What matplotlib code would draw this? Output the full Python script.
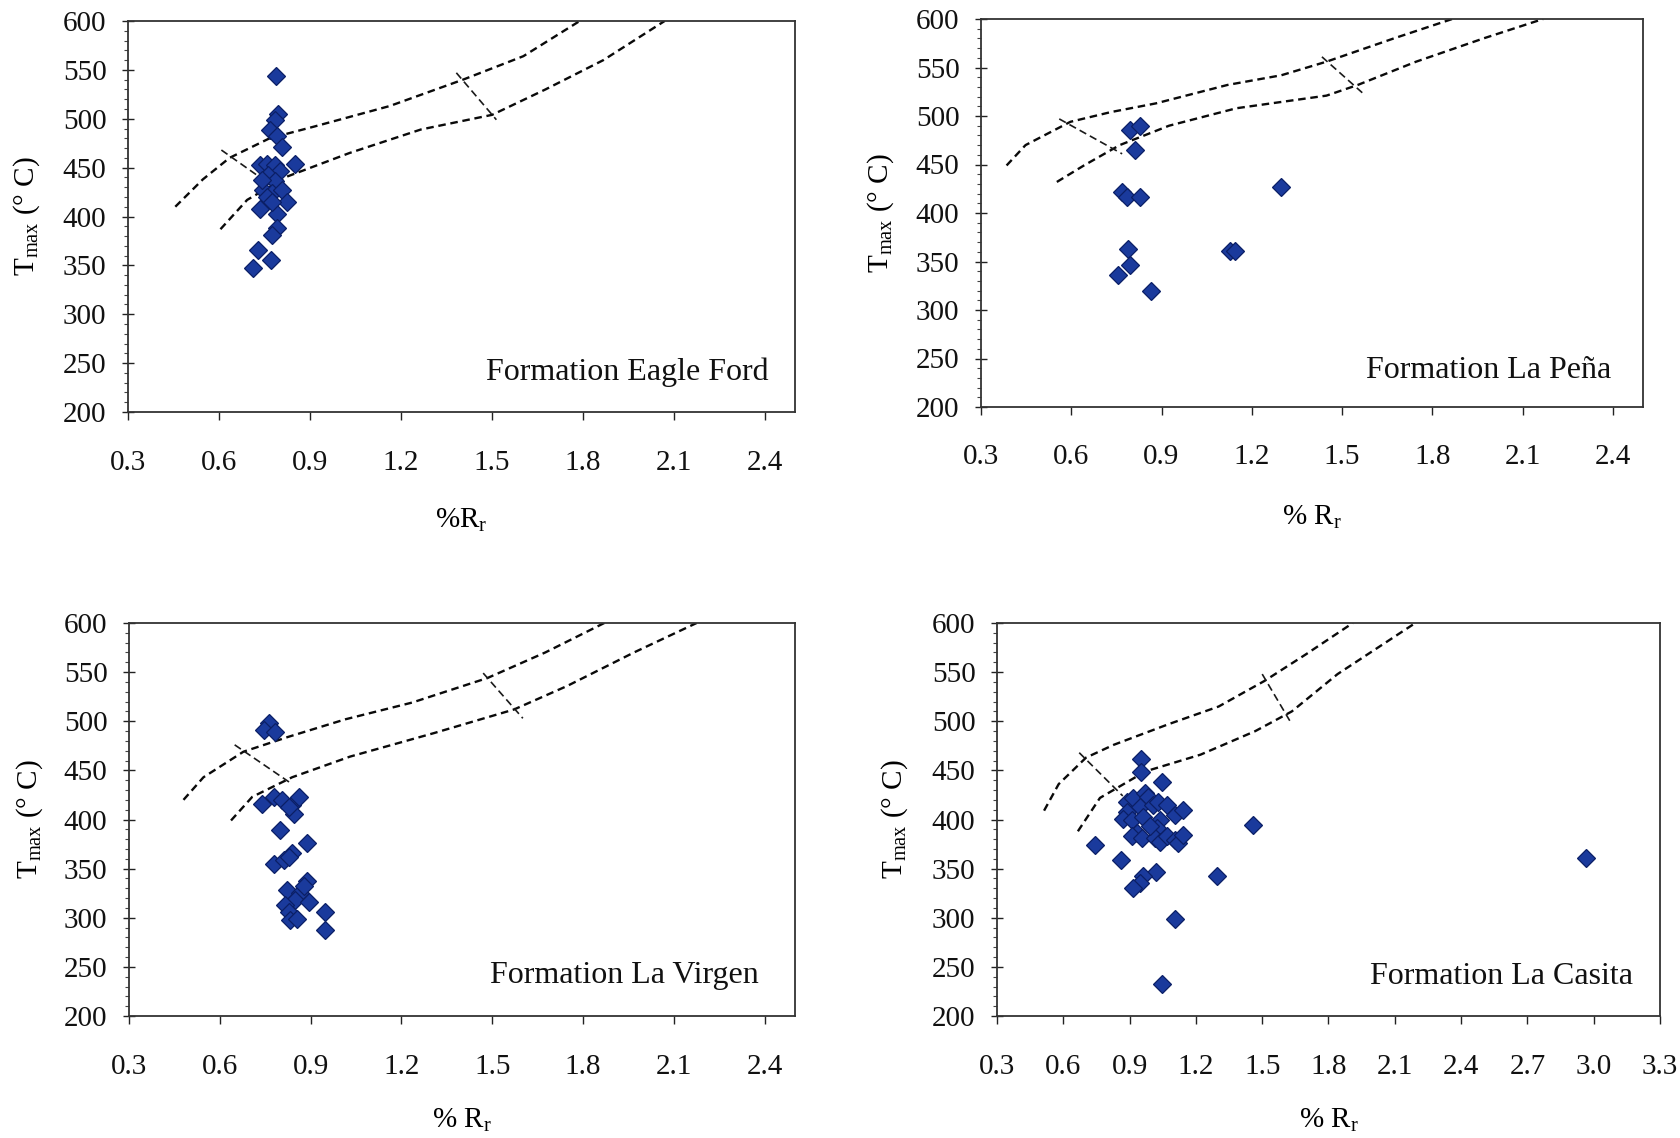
import matplotlib
matplotlib.use('Agg')
import numpy as np
import matplotlib.pyplot as plt
from matplotlib.ticker import MultipleLocator, FixedLocator

plt.rcParams['font.family'] = ['Liberation Serif', 'DejaVu Serif']
plt.rcParams['mathtext.fontset'] = 'custom'
plt.rcParams['mathtext.rm'] = 'Liberation Serif'
plt.rcParams['mathtext.it'] = 'Liberation Serif:italic'

# ---------------- data ----------------
# Formation Eagle Ford
ef_rr = [0.788, 0.796, 0.785, 0.768, 0.790, 0.807, 0.851, 0.735, 0.757, 0.785, 0.801, 0.763,
         0.785, 0.746, 0.774, 0.807, 0.823, 0.757, 0.735, 0.790, 0.790, 0.774, 0.730, 0.771,
         0.713, 0.741, 0.774]
ef_tmax = [544, 505, 499, 488, 482, 471, 454, 453, 454, 453, 447, 442,
           436, 427, 424, 427, 415, 420, 408, 403, 388, 381, 366, 356,
           347, 437, 415]
ef_up_rr = [0.456, 0.547, 0.635, 0.767, 0.914, 1.163, 1.405, 1.604, 1.79]
ef_up_t = [410, 438, 460, 480, 492, 513, 540, 564, 600]
ef_lo_rr = [0.605, 0.693, 0.826, 1.031, 1.266, 1.501, 1.677, 1.868, 2.07]
ef_lo_t = [387, 417, 441, 465, 489, 504, 530, 560, 600]
ef_c1_rr, ef_c1_t = [0.608, 0.745], [468, 438]
ef_c2_rr, ef_c2_t = [1.383, 1.515], [547, 499]

# Formation La Peña
lp_rr = [0.794, 0.828, 0.813, 0.769, 0.784, 0.828, 0.788, 0.796, 0.754, 0.866, 1.127, 1.145, 1.296]
lp_tmax = [486, 490, 465, 422, 416, 416, 363, 346, 336, 320, 361, 361, 427]
lp_up_rr = [0.385, 0.448, 0.597, 0.731, 0.881, 1.119, 1.298, 1.448, 1.672, 1.866]
lp_up_t = [449, 470, 494, 504, 513, 532, 542, 556, 580, 600]
lp_lo_rr = [0.552, 0.642, 0.761, 0.925, 1.149, 1.448, 1.552, 1.746, 1.97, 2.168]
lp_lo_t = [432, 449, 470, 490, 508, 521, 532, 556, 580, 600]
lp_c1_rr, lp_c1_t = [0.56, 0.769], [497, 461]
lp_c2_rr, lp_c2_t = [1.433, 1.567], [561, 524]

# Formation La Virgen
lv_rr = [0.761, 0.745, 0.783, 0.739, 0.778, 0.805, 0.838, 0.860, 0.844, 0.827, 0.800, 0.888,
         0.838, 0.778, 0.811, 0.827, 0.888, 0.822, 0.866, 0.849, 0.893, 0.816, 0.827, 0.833,
         0.855, 0.948, 0.948, 0.877]
lv_tmax = [498, 491, 489, 416, 423, 420, 415, 423, 406, 413, 389, 376,
           366, 355, 359, 362, 337, 328, 325, 318, 316, 313, 306, 298,
           299, 306, 288, 332]
lv_up_rr = [0.48, 0.546, 0.678, 0.825, 1.015, 1.235, 1.484, 1.675, 1.87]
lv_up_t = [420, 443, 469, 484, 502, 519, 544, 570, 600]
lv_lo_rr = [0.637, 0.707, 0.839, 1.03, 1.308, 1.572, 1.748, 1.968, 2.175]
lv_lo_t = [399, 423, 443, 464, 488, 512, 536, 570, 600]
lv_c1_rr, lv_c1_t = [0.649, 0.839], [476, 436]
lv_c2_rr, lv_c2_t = [1.47, 1.601], [549, 503]

# Formation La Casita
lc_rr = [0.952, 0.952, 1.045, 0.887, 0.917, 0.970, 0.985, 0.947, 0.887, 0.872, 0.909, 0.962,
         1.007, 1.030, 1.068, 1.105, 1.143, 1.037, 1.022, 0.932, 0.909, 0.955, 1.015, 1.037,
         1.068, 1.105, 1.120, 1.143, 0.992, 0.743, 0.861, 1.018, 0.962, 0.947, 0.917, 1.105,
         1.045, 1.294, 1.46, 2.963]
lc_tmax = [462, 448, 438, 418, 422, 427, 423, 413, 408, 401, 400, 403,
           415, 418, 415, 405, 410, 400, 391, 386, 383, 381, 381, 377,
           383, 379, 376, 384, 393, 374, 359, 347, 342, 335, 330, 299,
           233, 343, 394, 361]
lc_up_rr = [0.513, 0.579, 0.703, 0.828, 1.076, 1.303, 1.51, 1.697, 1.91]
lc_up_t = [409, 436, 463, 476, 497, 515, 541, 568, 600]
lc_lo_rr = [0.666, 0.766, 0.972, 1.221, 1.469, 1.634, 1.841, 2.193]
lc_lo_t = [388, 422, 449, 466, 490, 510, 548, 600]
lc_c1_rr, lc_c1_t = [0.672, 0.869], [468, 424]
lc_c2_rr, lc_c2_t = [1.5, 1.634], [548, 497]

titles = ['Formation Eagle Ford', 'Formation La Peña', 'Formation La Virgen', 'Formation La Casita']
xlabels = ['%R$_\\mathrm{r}$', '% R$_\\mathrm{r}$', '% R$_\\mathrm{r}$', '% R$_\\mathrm{r}$']
ylabel = 'T$_\\mathrm{max}$ (° C)'

# ---------------- layout ----------------
W, H = 1681, 1138
fig = plt.figure(figsize=(W / 100, H / 100), dpi=100)


def rect(x0, x1, y0, y1):
    return [x0 / W, 1 - y1 / H, (x1 - x0) / W, (y1 - y0) / H]


panels = [
    dict(box=(128, 795, 21, 412), xmax=2.5, pts=(ef_rr, ef_tmax),
         up=(ef_up_rr, ef_up_t), lo=(ef_lo_rr, ef_lo_t),
         c1=(ef_c1_rr, ef_c1_t), c2=(ef_c2_rr, ef_c2_t),
         ylab_px=27, xlab_py=520, title_right=769, title_y=372),
    dict(box=(981, 1643, 19, 407), xmax=2.5, pts=(lp_rr, lp_tmax),
         up=(lp_up_rr, lp_up_t), lo=(lp_lo_rr, lp_lo_t),
         c1=(lp_c1_rr, lp_c1_t), c2=(lp_c2_rr, lp_c2_t),
         ylab_px=881, xlab_py=517, title_right=1611, title_y=371),
    dict(box=(129, 795, 623, 1016), xmax=2.5, pts=(lv_rr, lv_tmax),
         up=(lv_up_rr, lv_up_t), lo=(lv_lo_rr, lv_lo_t),
         c1=(lv_c1_rr, lv_c1_t), c2=(lv_c2_rr, lv_c2_t),
         ylab_px=30, xlab_py=1120, title_right=759, title_y=976),
    dict(box=(997, 1660, 623, 1016), xmax=3.3, pts=(lc_rr, lc_tmax),
         up=(lc_up_rr, lc_up_t), lo=(lc_lo_rr, lc_lo_t),
         c1=(lc_c1_rr, lc_c1_t), c2=(lc_c2_rr, lc_c2_t),
         ylab_px=895, xlab_py=1120, title_right=1633, title_y=976),
]

FS = 21
face = '#1A3A9C'
edge = '#0B1F66'

for i, p in enumerate(panels):
    x0, x1, y0, y1 = p['box']
    ax = fig.add_axes(rect(x0, x1, y0, y1))
    ax.set_xlim(0.3, p['xmax'])
    ax.set_ylim(200, 600)

    dash_kw = dict(color='#0A0A0A', lw=1.7, linestyle=(0, (3.2, 2.0)))
    ax.plot(*p['up'], **dash_kw)
    ax.plot(*p['lo'], **dash_kw)
    cross_kw = dict(color='#1A1A1A', lw=1.2, linestyle=(0, (4.5, 2.5)))
    ax.plot(*p['c1'], **cross_kw)
    ax.plot(*p['c2'], **cross_kw)

    ax.plot(*p['pts'], linestyle='none', marker='D', markersize=9.0,
            markerfacecolor=face, markeredgecolor=edge, markeredgewidth=0.9, zorder=5)

    ticks = np.round(np.arange(0.3, p['xmax'] + 0.001, 0.3), 1)
    ax.xaxis.set_major_locator(FixedLocator(ticks))
    ax.set_xticklabels([f'{t:.1f}' for t in ticks])
    ax.yaxis.set_major_locator(MultipleLocator(50))
    ax.yaxis.set_minor_locator(MultipleLocator(10))
    ax.tick_params(axis='x', direction='out', length=6, width=1.0, pad=21,
                   labelsize=FS, colors='#222222', labelcolor='#111111')
    ax.tick_params(axis='y', which='major', direction='inout', length=9, width=1.0,
                   pad=11, labelsize=FS, colors='#222222', labelcolor='#111111')
    ax.tick_params(axis='y', which='minor', direction='out', length=3, width=0.8,
                   colors='#444444')
    for s in ax.spines.values():
        s.set_linewidth(1.3)
        s.set_color('#333333')

    w = x1 - x0
    h = y1 - y0
    ax.set_ylabel(ylabel, fontsize=FS, va='center', ha='center')
    ax.yaxis.set_label_coords((p['ylab_px'] - x0) / w, 0.5)
    ax.set_xlabel(xlabels[i], fontsize=FS, va='center', ha='center')
    ax.xaxis.set_label_coords(0.5, 1 - (p['xlab_py'] - y0) / h)

    ax.text((p['title_right'] - x0) / w, 1 - (p['title_y'] - y0) / h, titles[i],
            transform=ax.transAxes, ha='right', va='center', fontsize=23, color='#111111')

fig.savefig('out.png', dpi=100, facecolor='white')
